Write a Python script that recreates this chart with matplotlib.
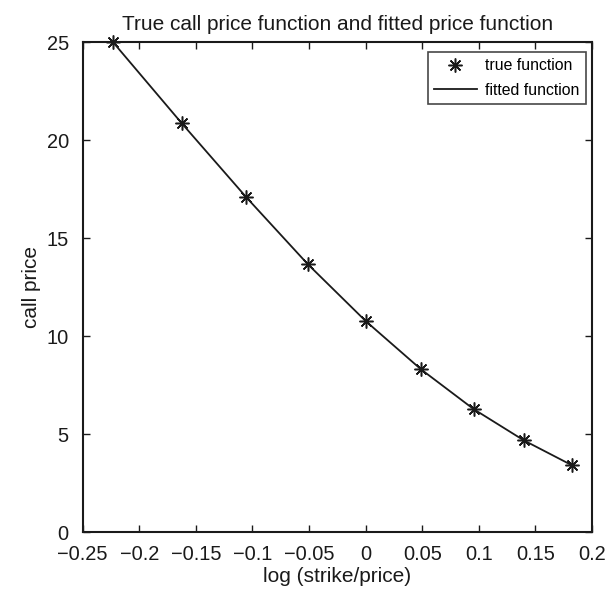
import numpy as np
import matplotlib
matplotlib.use("Agg")
import matplotlib.pyplot as plt

plt.rcParams['font.family'] = ['Liberation Sans', 'DejaVu Sans']

# data
log_moneyness = [-0.2231, -0.1625, -0.1054, -0.0513, 0.0, 0.0488, 0.0953, 0.1398, 0.1823]
true_price = [25.0, 20.87, 17.09, 13.69, 10.78, 8.32, 6.29, 4.69, 3.42]
fitted_price = [25.0, 20.87, 17.09, 13.69, 10.78, 8.32, 6.29, 4.69, 3.42]
xticks = [-0.25, -0.2, -0.15, -0.1, -0.05, 0, 0.05, 0.1, 0.15, 0.2]
xtick_labels = ['\u22120.25', '\u22120.2', '\u22120.15', '\u22120.1', '\u22120.05', '0', '0.05', '0.1', '0.15', '0.2']
yticks = [0, 5, 10, 15, 20, 25]

fig = plt.figure(figsize=(6.06, 5.99), dpi=100)
L, R, T, B = 82.7, 592.0, 42.3, 532.3
ax = fig.add_axes([L/606, 1-B/599, (R-L)/606, (B-T)/599])

ax.plot(log_moneyness, true_price, linestyle='none', marker=(8, 2, 0), color='#1a1a1a',
        markersize=10, markeredgewidth=1.1, label='true function', clip_on=False, zorder=3)
ax.plot(log_moneyness, fitted_price, '-', color='#1a1a1a', lw=1.3, label='fitted function', zorder=2)

ax.set_xlim(-0.25, 0.2)
ax.set_ylim(0, 25)
ax.set_xticks(xticks)
ax.set_xticklabels(xtick_labels)
ax.set_yticks(yticks)
ax.tick_params(direction='in', top=True, right=True, length=5, width=1, labelsize=14.4,
               colors='#1a1a1a')
ax.tick_params(axis='x', pad=9.5)
ax.tick_params(axis='y', pad=10)
for s in ax.spines.values():
    s.set_linewidth(1.5)
    s.set_color('#1a1a1a')

ax.set_title('True call price function and fitted price function', fontsize=15, pad=9, color='#1a1a1a')
ax.set_xlabel('log (strike/price)', fontsize=15, labelpad=2, color='#1a1a1a')
ax.set_ylabel('call price', fontsize=15, labelpad=4, color='#1a1a1a')

leg = ax.legend(loc='upper right', bbox_to_anchor=((586 - L) / (R - L), (B - 52) / (B - T)),
                borderaxespad=0, fontsize=11.4, frameon=True, fancybox=False,
                edgecolor='#1a1a1a', handlelength=2.7, handletextpad=0.55,
                borderpad=0.4, labelspacing=0.6)
leg.get_frame().set_linewidth(1.2)

fig.savefig('out.png', dpi=100, facecolor='white')
